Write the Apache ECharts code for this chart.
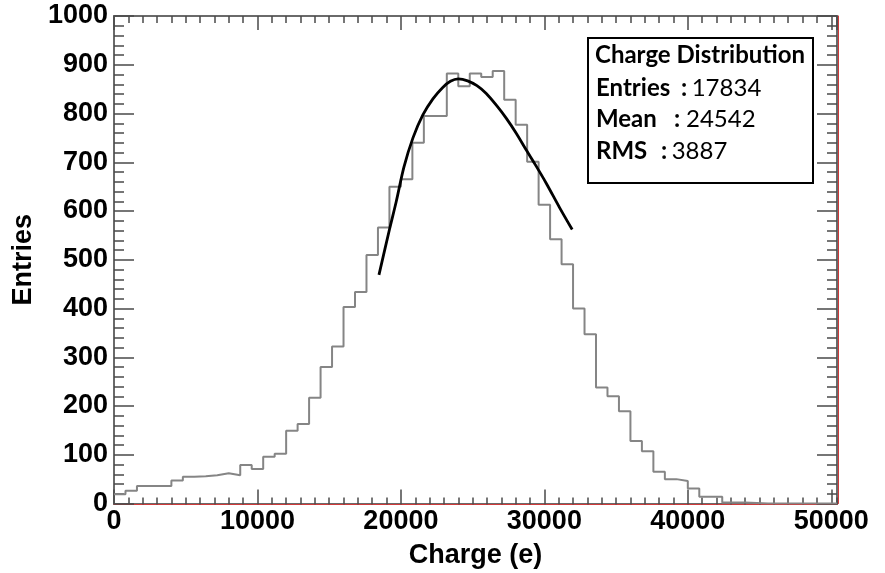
<!DOCTYPE html>
<html>
<head>
<meta charset="utf-8">
<script src="https://cdn.jsdelivr.net/npm/echarts@6/dist/echarts.min.js"></script>
<style>
html,body{margin:0;padding:0;background:#ffffff;}
#chart{width:885px;height:573px;}
</style>
</head>
<body>
<div id="chart"></div>
<script>
// ---- data ----
const binWidth = 800;           // histogram bin width (e)
const xRange = [0, 50400];      // histogram range (63 bins)
const counts = [
  19, 26, 36, 36, 36, 47, 55, 56, 58, 62,
  58, 79, 71, 96, 102, 149, 163, 217, 280, 322,
  403, 434, 510, 566, 650, 665, 740, 795, 795, 882,
  856, 882, 875, 887, 828, 777, 701, 613, 542, 491,
  400, 347, 238, 220, 189, 128, 107, 65, 50, 46,
  31, 14, 14, 2, 2, 1, 0, 0, 0, 0,
  0, 0, 0
];
const fitX = [18470, 19210, 19680, 20210, 20840, 21530, 22230, 22900, 23450, 24000, 24650, 25300,
              25950, 26650, 27350, 28050, 28740, 29430, 30130, 31060, 31940];
const fitY = [469, 563, 620, 690, 750, 797, 830, 853, 866, 871, 867, 857,
              841, 817, 790, 759, 725, 692, 657, 607, 562];
const xTickStep = 10000;
const xMinorStep = 1000;
const yRange = [0, 1000];
const yTickStep = 100;
const xTitle = 'Charge (e)';
const yTitle = 'Entries';
const statsTitle = 'Charge Distribution';
const statsWords = ['Entries', 'Mean', 'RMS'];
const statsValues = ['17834', '24542', '3887'];

// ---- build series data ----
const histData = counts.map((c, i) => [i * binWidth, c]);
histData.push([counts.length * binWidth, counts[counts.length - 1]]);
const fitData = fitX.map((x, i) => [x, fitY[i]]);

const axisGray = '#6a6a6a';
const tickColor = '#4a4a4a';
const redLine = '#d03a3a';
const labelFont = {fontFamily: 'Liberation Sans', fontWeight: 'bold', fontSize: 27, color: '#000'};

function xAx(pos, interval, tickLen, showLabel, lineColor, lineWidth, offset) {
  return {
    type: 'value', position: pos, min: xRange[0], max: xRange[1], interval: interval,
    offset: offset || 0,
    axisLine: {show: true, onZero: false, lineStyle: {color: lineColor, width: lineWidth}},
    axisTick: {show: true, inside: true, length: tickLen, lineStyle: {color: tickColor, width: 1.5}},
    minorTick: {show: false},
    splitLine: {show: false},
    axisLabel: Object.assign({show: showLabel, margin: 5, showMaxLabel: false,
      formatter: v => String(v)}, labelFont)
  };
}
function yAx(pos, showLabel, lineColor, lineWidth, offset, ticks) {
  return {
    type: 'value', position: pos, min: yRange[0], max: yRange[1], interval: yTickStep,
    offset: offset || 0,
    axisLine: {show: true, onZero: false, lineStyle: {color: lineColor, width: lineWidth}},
    axisTick: {show: ticks, inside: true, length: 20, lineStyle: {color: tickColor, width: 1.5}},
    minorTick: {show: ticks, splitNumber: 5, length: 10, lineStyle: {color: tickColor, width: 1.5}},
    splitLine: {show: false},
    axisLabel: Object.assign({show: showLabel, margin: 6, padding: [7, 0, 0, 0],
      formatter: v => String(v)}, labelFont)
  };
}

const xAxes = [
  xAx('bottom', xTickStep, 14, true, axisGray, 2, 0),
  xAx('top', xTickStep, 14, false, axisGray, 2, 0),
  xAx('bottom', xMinorStep, 7, false, redLine, 1, 1),
  xAx('top', xMinorStep, 7, false, axisGray, 2, 0)
];
Object.assign(xAxes[0], {
  name: xTitle, nameLocation: 'middle', nameGap: 39,
  nameTextStyle: {fontFamily: 'Liberation Sans', fontWeight: 'bold', fontSize: 27, color: '#000'}
});
const yAxes = [
  yAx('left', true, axisGray, 2, 0, true),
  yAx('right', false, axisGray, 2, 0, true),
  yAx('right', false, redLine, 1, 1, false)
];
Object.assign(yAxes[0], {
  name: yTitle, nameLocation: 'middle', nameGap: 67, nameRotate: 90,
  nameTextStyle: {fontFamily: 'Liberation Sans', fontWeight: 'bold', fontSize: 27, color: '#000'}
});

const boxX = 588, boxY = 38;
const textX = 596;
const lineCenters = [55.5, 88, 119.5, 151.5];
const colonX = [681, 674, 661];
const valueX = [691.7, 686, 671.7];
const boldFont = 'bold 24px Lato';
const graphics = [
  {type: 'rect', x: boxX, y: boxY, shape: {width: 225, height: 145}, z: 100,
   style: {fill: '#fff', stroke: '#000', lineWidth: 2}},
  {type: 'text', x: textX - 1, y: lineCenters[0], z: 101,
   style: {text: statsTitle, font: boldFont, fill: '#000', verticalAlign: 'middle', align: 'left'}}
];
statsWords.forEach((w, i) => {
  const cy = lineCenters[i + 1];
  graphics.push({type: 'text', x: textX, y: cy, z: 101,
    style: {text: w, font: boldFont, fill: '#000', verticalAlign: 'middle', align: 'left'}});
  graphics.push({type: 'text', x: colonX[i], y: cy, z: 101,
    style: {text: ':', font: boldFont, fill: '#000', verticalAlign: 'middle', align: 'left'}});
  graphics.push({type: 'text', x: valueX[i], y: cy, z: 101,
    style: {text: statsValues[i], font: '24px Lato', fill: '#000', verticalAlign: 'middle', align: 'left'}});
});

const chart = echarts.init(document.getElementById('chart'), null, {renderer: 'canvas'});
chart.setOption({
  backgroundColor: '#ffffff',
  animation: false,
  grid: {left: 114, top: 16, right: 48, bottom: 69.5, outerBoundsMode: 'none', containLabel: false},
  xAxis: xAxes,
  yAxis: yAxes,
  series: [
    {type: 'line', name: 'hist', xAxisIndex: 0, yAxisIndex: 0, step: 'end', data: histData,
     showSymbol: false, symbol: 'none', lineStyle: {color: '#858585', width: 2}, z: 3},
    {type: 'line', name: 'fit', xAxisIndex: 0, yAxisIndex: 0, smooth: 0.3, data: fitData,
     showSymbol: false, symbol: 'none', lineStyle: {color: '#000', width: 2.8}, z: 4}
  ],
  graphic: graphics
});
</script>
</body>
</html>
